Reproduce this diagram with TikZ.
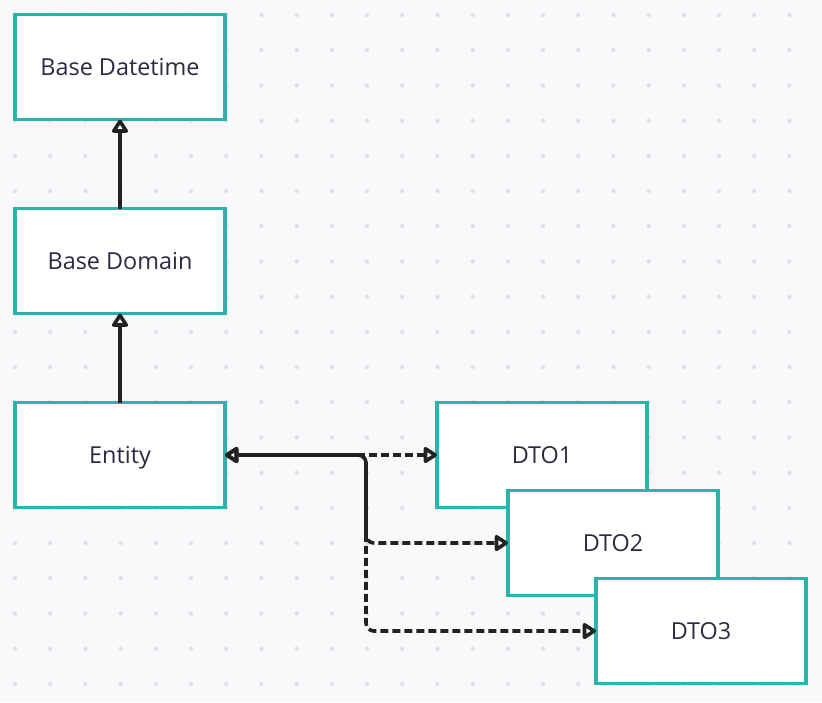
\documentclass[tikz,border=0pt]{standalone}
\usepackage{fontspec}
\setmainfont{Open Sans}
\usepackage{xcolor}
\usetikzlibrary{positioning, arrows.meta}
\definecolor{boxteal}{HTML}{2BB3AC}
\definecolor{boxtext}{HTML}{2A2A42}
\definecolor{canvas}{HTML}{F9F9FB}
\definecolor{griddot}{HTML}{E0E0E6}
\definecolor{linkgray}{HTML}{222222}

\begin{document}
\begin{tikzpicture}[
  x=0.5pt, y=-0.5pt,
  node distance=44.5pt and 106pt,
  box/.style={rectangle, draw=boxteal, fill=white, line width=1.8pt, minimum width=105pt, minimum height=52.5pt,
    inner sep=0pt, outer sep=0pt, text=boxtext, text height=8.4pt, text depth=0pt, font=\fontsize{11.7}{14}\selectfont},
  inh/.style={-{Triangle[open, length=7.5pt, width=9pt, round]}, line width=1.8pt, draw=linkgray},
  dep/.style={{Triangle[open, length=7.5pt, width=9pt, round]}-{Triangle[open, length=7.5pt, width=9pt, round]},
    line width=1.8pt, draw=linkgray, dash pattern=on 4pt off 2pt, rounded corners=4pt},
]
  \useasboundingbox (0,0) rectangle (822,702);
  \fill[canvas] (0,0) rectangle (822,702);
  \foreach \i in {0,...,22}
    \foreach \j in {0,...,19}
      \fill[griddot] (15+35.2*\i, 15+35.2*\j) circle (1.1pt);

  \node[box] (datetime) at (120,67) {Base Datetime};
  \node[box] (domain) [below=of datetime] {Base Domain};
  \node[box] (entity) [below=of domain] {Entity};
  \node[box] (dto1) [right=of entity] {DTO1};
  \node[box] (dto2) [below right=-8.5pt and -69.5pt of dto1] {DTO2};
  \node[box] (dto3) [below right=-8.5pt and -61pt of dto2] {DTO3};
  \coordinate (split) at (366,455);

  \draw[inh] (domain) -- (datetime);
  \draw[inh] (entity) -- (domain);
  \draw[dep] (entity) -- (dto1);
  \draw[dep, dash phase=3pt] (entity.east) -- (split) |- (dto2.west);
  \draw[dep] (entity.east) -- (split) |- (dto3.west);
\end{tikzpicture}
\end{document}
